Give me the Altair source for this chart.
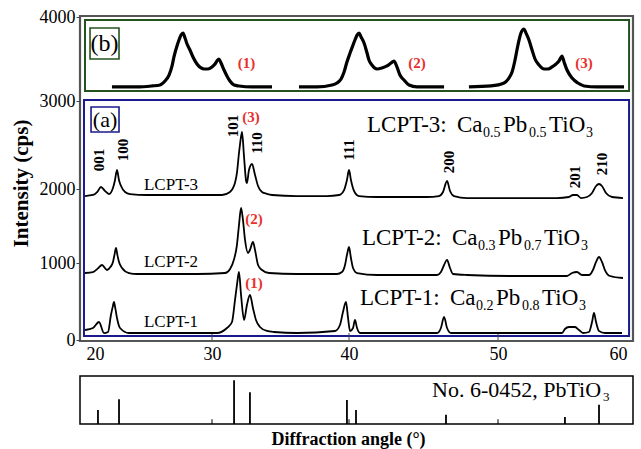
import altair as alt
import pandas as pd

FONT = "Liberation Serif"

# ---------------- data (2-theta in degrees, intensity in cps) ----------------
lcpt3 = [(19.92, 1905), (20.56, 1919), (20.90, 1960), (21.19, 2023), (21.50, 1975), (21.83, 1932),
         (22.14, 2011), (22.30, 2100), (22.46, 2216), (22.62, 2100), (22.78, 2034), (23.10, 1959),
         (23.49, 1932), (24.84, 1919), (28.81, 1919), (30.73, 1919), (31.31, 1960), (31.68, 2070),
         (31.82, 2182), (31.97, 2409), (32.04, 2500), (32.19, 2648), (32.34, 2364), (32.48, 2102),
         (32.55, 2068), (32.70, 2216), (32.92, 2284), (33.14, 2159), (33.36, 2034), (33.65, 1959),
         (34.00, 1935), (34.38, 1919), (36.20, 1905), (38.39, 1905), (39.27, 1919), (39.64, 1986),
         (39.85, 2102), (40.00, 2216), (40.13, 2102), (40.34, 1973), (40.67, 1905), (41.88, 1892),
         (45.23, 1892), (46.04, 1905), (46.31, 1959), (46.58, 2091), (46.78, 1973), (47.05, 1905),
         (47.92, 1878), (54.57, 1878), (55.50, 1892), (55.81, 1919), (56.12, 1919), (56.43, 1878),
         (56.90, 1892), (57.29, 1946), (57.60, 2034), (57.83, 2057), (58.06, 2034), (58.37, 1946),
         (58.84, 1892), (59.69, 1878)]
lcpt2 = [(19.92, 870), (20.56, 883), (20.95, 930), (21.27, 974), (21.67, 909), (21.95, 950),
         (22.14, 1014), (22.26, 1110), (22.38, 1203), (22.50, 1100), (22.62, 1014), (22.86, 935),
         (23.41, 870), (24.05, 857), (28.81, 857), (30.95, 870), (31.31, 920), (31.61, 1050),
         (31.82, 1243), (31.97, 1513), (32.12, 1743), (32.26, 1581), (32.41, 1311), (32.63, 1135),
         (32.77, 1176), (32.99, 1284), (33.14, 1176), (33.36, 974), (33.65, 909), (34.16, 870),
         (36.20, 857), (39.12, 857), (39.49, 883), (39.71, 974), (39.85, 1108), (40.00, 1216),
         (40.13, 1068), (40.27, 935), (40.54, 870), (41.88, 844), (45.91, 844), (46.17, 883),
         (46.38, 974), (46.58, 1041), (46.78, 935), (46.98, 857), (47.92, 844), (51.24, 831),
         (55.35, 831), (55.74, 870), (56.12, 883), (56.51, 844), (57.05, 844), (57.36, 909),
         (57.60, 1014), (57.83, 1081), (58.06, 1014), (58.29, 909), (58.68, 831), (59.69, 805)]
lcpt1 = [(19.92, 130), (20.56, 156), (21.03, 234), (21.43, 90), (21.75, 104), (21.98, 325),
         (22.12, 430), (22.22, 494), (22.34, 400), (22.46, 286), (22.70, 156), (23.41, 91),
         (24.84, 91), (30.36, 91), (31.09, 156), (31.46, 234), (31.68, 520), (31.82, 714),
         (31.97, 883), (32.12, 585), (32.34, 260), (32.55, 455), (32.77, 585), (32.99, 416),
         (33.21, 260), (33.50, 169), (34.01, 117), (34.53, 104), (36.20, 91), (38.98, 117),
         (39.34, 195), (39.56, 364), (39.78, 494), (39.93, 286), (40.07, 117), (40.27, 156),
         (40.40, 260), (40.54, 156), (40.74, 91), (45.91, 91), (46.17, 156), (46.38, 299),
         (46.58, 156), (46.85, 91), (54.96, 91), (55.19, 143), (55.50, 169), (55.97, 169),
         (56.28, 130), (56.59, 91), (57.05, 104), (57.29, 234), (57.44, 351), (57.60, 234),
         (57.83, 117), (58.29, 91), (59.61, 91)]

# inset (b): enlarged 101/110 doublets, drawn in the upper band
inset1 = [(22.06, 3167), (24.05, 3167), (25.24, 3179), (25.87, 3190), (26.27, 3238), (26.59, 3309),
          (26.83, 3417), (26.98, 3524), (27.22, 3655), (27.38, 3726), (27.54, 3785), (27.70, 3809),
          (27.86, 3750), (28.02, 3678), (28.25, 3607), (28.49, 3524), (28.81, 3440), (29.13, 3393),
          (29.37, 3381), (29.68, 3381), (30.00, 3405), (30.22, 3440), (30.36, 3476), (30.51, 3500),
          (30.66, 3452), (30.88, 3369), (31.09, 3298), (31.31, 3238), (31.61, 3190), (31.97, 3179),
          (32.92, 3167), (34.38, 3167)]
inset2 = [(36.35, 3167), (37.66, 3167), (38.76, 3190), (39.12, 3214), (39.42, 3262), (39.64, 3345),
          (39.85, 3464), (40.07, 3571), (40.27, 3666), (40.40, 3726), (40.54, 3785), (40.67, 3809),
          (40.81, 3762), (41.01, 3690), (41.21, 3571), (41.34, 3488), (41.54, 3428), (41.88, 3381),
          (42.21, 3393), (42.55, 3417), (42.82, 3452), (43.02, 3476), (43.22, 3405), (43.42, 3309),
          (43.69, 3250), (44.03, 3190), (44.56, 3167), (46.38, 3167)]
inset3 = [(48.05, 3167), (49.53, 3179), (50.47, 3214), (50.85, 3274), (51.09, 3345), (51.32, 3488),
          (51.47, 3607), (51.63, 3726), (51.78, 3809), (52.02, 3857), (52.17, 3809), (52.40, 3726),
          (52.64, 3607), (52.87, 3500), (53.18, 3428), (53.57, 3381), (53.88, 3381), (54.19, 3405),
          (54.50, 3440), (54.73, 3476), (54.96, 3536), (55.12, 3464), (55.35, 3369), (55.74, 3274),
          (56.20, 3214), (56.67, 3179), (57.67, 3167), (59.77, 3167)]

# reference pattern No. 6-0452 PbTiO3 (position, relative intensity)
ref_pos = [20.95, 22.62, 31.61, 32.77, 39.85, 40.47, 46.51, 55.19, 57.83]
ref_int = [32, 57, 100, 73, 55, 32, 21, 16, 44]

# Miller indices
hkl_text = ["001", "100", "101", "110", "111", "200", "201", "210"]
hkl_x = [21.03, 22.94, 31.53, 33.29, 40.00, 46.72, 55.97, 58.06]
hkl_y = [2329, 2443, 2716, 2523, 2443, 2307, 2136, 2284]

# sample labels
sample_text = ["LCPT-3", "LCPT-2", "LCPT-1"]
sample_x = [24.60, 24.60, 24.60]
sample_y = [2045, 1014, 234]

# composition labels
comp_label = ["LCPT-3:", "LCPT-2:", "LCPT-1:"]
comp_ca = ["0.5", "0.3", "0.2"]
comp_pb = ["0.5", "0.7", "0.8"]
comp_x = [41.21, 40.87, 40.74]
comp_y = [2648, 1243, 455]

# red markers
red_text = ["(3)", "(2)", "(1)", "(1)", "(2)", "(3)"]
red_x = [32.85, 33.07, 33.07, 32.51, 44.56, 56.67]
red_y = [2818, 1594, 740, 3452, 3452, 3452]

# panel frames
frame_name = ["b", "a", "b_tag", "a_tag"]
frame_x = [19.92, 19.84, 20.32, 20.40]
frame_x2 = [60.16, 60.16, 22.62, 22.62]
frame_y = [3119, 52, 3500, 2648]
frame_y2 = [3964, 3012, 3869, 2932]
frame_color = ["#24521f", "#1a1a8c", "#24521f", "#1a1a8c"]
frame_width = [2.0, 2.0, 1.6, 1.6]

tag_text = ["(b)", "(a)"]
tag_x = [21.47, 21.51]
tag_y = [3678, 2784]

x_ticks = [20, 30, 40, 50, 60]
inner_ticks = [30, 40, 50]
y_ticks = [0, 1000, 2000, 3000, 4000]

# ---------------- scales ----------------
W = 553
H = 325
xs = alt.Scale(domain=x_ticks, range=[6, 132, 269, 418, 547])
ys = alt.Scale(domain=y_ticks, range=[324, 247, 173, 85, 1])

def pairs(name, pts):
    return pd.DataFrame({"s": name, "x": [p[0] for p in pts], "y": [p[1] for p in pts]})

curves = pd.concat([pairs("3", lcpt3), pairs("2", lcpt2), pairs("1", lcpt1)])
insets = pd.concat([pairs("i1", inset1), pairs("i2", inset2), pairs("i3", inset3)])

X = alt.X("x:Q", scale=xs, axis=alt.Axis(values=x_ticks, format="d", ticks=False, domain=False,
                                         grid=False, labelFont=FONT, labelFontSize=18,
                                         labelColor="black", labelPadding=4, title=None))
Y = alt.Y("y:Q", scale=ys, axis=alt.Axis(values=y_ticks, format="d", tickSize=4, tickColor="#444",
                                         domain=False, grid=False, labelFont=FONT, labelFontSize=18,
                                         labelColor="black", labelPadding=1,
                                         title="Intensity (cps)", titleFont=FONT, titleFontSize=21,
                                         titleFontWeight="bold", titleColor="black",
                                         titlePadding=8, titleY=167))

frames = pd.DataFrame({"n": frame_name, "x": frame_x, "x2": frame_x2, "y": frame_y, "y2": frame_y2,
                       "c": frame_color, "w": frame_width})
frame_layer = alt.Chart(frames).mark_rect(fillOpacity=0).encode(
    x=X, x2="x2:Q", y=Y, y2="y2:Q",
    stroke=alt.Stroke("c:N", scale=None),
    strokeWidth=alt.StrokeWidth("w:Q", scale=None))

curve_layer = alt.Chart(curves).mark_line(color="black", strokeWidth=1.8,
                                          interpolate="monotone").encode(x=X, y=Y, detail="s:N")
inset_layer = alt.Chart(insets).mark_line(color="black", strokeWidth=3.2,
                                          interpolate="monotone").encode(x=X, y=Y, detail="s:N")

tick_df = pd.DataFrame({"x": inner_ticks, "y": 0, "y2": 90})
tick_layer = alt.Chart(tick_df).mark_rule(color="#444", strokeWidth=1).encode(x=X, y=Y, y2="y2:Q")

hkl_df = pd.DataFrame({"t": hkl_text, "x": hkl_x, "y": hkl_y})
hkl_layer = alt.Chart(hkl_df).mark_text(angle=270, font=FONT, fontSize=15, fontWeight="bold",
                                         color="black", align="center", baseline="middle").encode(
    x=X, y=Y, text="t:N")

sample_df = pd.DataFrame({"t": sample_text, "x": sample_x, "y": sample_y})
sample_layer = alt.Chart(sample_df).mark_text(font=FONT, fontSize=17, color="black",
                                               align="left", baseline="middle").encode(
    x=X, y=Y, text="t:N")

red_df = pd.DataFrame({"t": red_text, "x": red_x, "y": red_y})
red_layer = alt.Chart(red_df).mark_text(font=FONT, fontSize=15, fontWeight="bold", color="#e8302c",
                                         align="center", baseline="middle").encode(
    x=X, y=Y, text="t:N")

tag_df = pd.DataFrame({"t": tag_text, "x": tag_x, "y": tag_y})
tag_b = alt.Chart(tag_df.iloc[[0]]).mark_text(font=FONT, fontSize=24, color="black", align="center",
                                               baseline="middle").encode(x=X, y=Y, text="t:N")
tag_a = alt.Chart(tag_df.iloc[[1]]).mark_text(font=FONT, fontSize=22, color="black", align="center",
                                               baseline="middle").encode(x=X, y=Y, text="t:N")

comp_df = pd.DataFrame({"lab": comp_label, "ca": comp_ca, "pb": comp_pb, "x": comp_x, "y": comp_y,
                        "Ca": "Ca", "Pb": "Pb", "TiO": "TiO", "three": "3"})
comp_layers = []
for field, dx, dy, size in [("lab", 0, 0, 23), ("Ca", 90, 0, 23), ("ca", 116, 5, 14),
                            ("Pb", 136, 0, 23), ("pb", 162, 5, 14), ("TiO", 182, 0, 23),
                            ("three", 219, 5, 14)]:
    comp_layers.append(
        alt.Chart(comp_df).mark_text(font=FONT, fontSize=size, color="black", align="left",
                                     baseline="alphabetic", dx=dx, dy=dy).encode(
            x=X, y=Y, text=f"{field}:N"))

top = alt.layer(frame_layer, tick_layer, curve_layer, inset_layer, hkl_layer, sample_layer,
                red_layer, tag_b, tag_a, *comp_layers).properties(
    width=W, height=H, view=alt.ViewBackground(stroke="#555", strokeWidth=2.2))

# ---------------- reference pattern panel ----------------
ref_df = pd.DataFrame({"x": ref_pos, "y": ref_int})
XB = alt.X("x:Q", scale=xs, axis=alt.Axis(labels=False, ticks=False, domain=False, grid=False,
                                          title="Diffraction angle (°)", titleFont=FONT,
                                          titleFontSize=18, titleFontWeight="bold",
                                          titleColor="black", titlePadding=6, titleX=268))
YB = alt.Y("y:Q", scale=alt.Scale(domain=[0, 110]), axis=None)
stick_layer = alt.Chart(ref_df).mark_rule(color="black", strokeWidth=1.8).encode(
    x=XB, y=YB, y2=alt.datum(0))
btick_df = pd.DataFrame({"x": inner_ticks, "y": 11})
btick_layer = alt.Chart(btick_df).mark_rule(color="black", strokeWidth=1).encode(
    x=XB, y=YB, y2=alt.datum(0))
ref_label = pd.DataFrame({"x": [45.57], "y": [62], "t": ["No. 6-0452, PbTiO"], "s": ["3"]})
ref_text = alt.Chart(ref_label).mark_text(font=FONT, fontSize=22, color="black", align="left",
                                           baseline="alphabetic").encode(x=XB, y=YB, text="t:N")
ref_sub = alt.Chart(ref_label).mark_text(font=FONT, fontSize=13, color="black", align="left",
                                          baseline="alphabetic", dx=171, dy=4).encode(
    x=XB, y=YB, text="s:N")
bottom = alt.layer(stick_layer, btick_layer, ref_text, ref_sub).properties(
    width=W, height=48, view=alt.ViewBackground(stroke="black", strokeWidth=1.5))

chart = alt.vconcat(top, bottom, spacing=10).properties(
    padding={"left": 8, "top": 6, "right": 4, "bottom": 0}
).configure(background="white")

chart.save("out.html", embed_options={"renderer": "svg", "actions": False})
